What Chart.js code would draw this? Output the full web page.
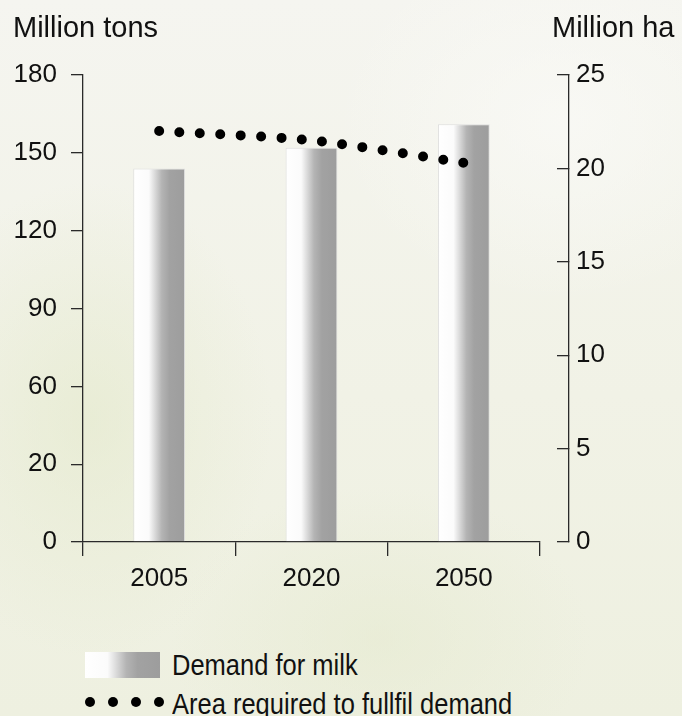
<!DOCTYPE html>
<html>
<head>
<meta charset="utf-8">
<script src="https://cdn.jsdelivr.net/npm/chart.js@4.4.1/dist/chart.umd.min.js"></script>
<style>
  html, body { margin: 0; padding: 0; }
  body {
    width: 682px; height: 716px; overflow: hidden; position: relative;
    font-family: "Liberation Sans", Arial, sans-serif;
    color: #111;
    background:
      radial-gradient(ellipse 260px 340px at 90px 420px, rgba(226, 232, 200, 0.55), rgba(226, 232, 200, 0) 70%),
      radial-gradient(ellipse 300px 220px at 380px 640px, rgba(228, 233, 205, 0.5), rgba(228, 233, 205, 0) 70%),
      radial-gradient(ellipse 320px 260px at 560px 120px, rgba(250, 250, 247, 0.7), rgba(250, 250, 247, 0) 70%),
      linear-gradient(180deg, #f5f5f0 0%, #f1f2e6 55%, #eef0e0 100%);
  }
  #chart { position: absolute; left: 0; top: 0; }
  .axis-title { position: absolute; top: 13px; font-size: 29px; line-height: 29px; white-space: nowrap; }
  /* legend text uses a condensed look */
  .legend-text {
    position: absolute; left: 172px; font-size: 30px; line-height: 30px; white-space: nowrap;
    transform: scaleX(0.85); transform-origin: 0 0;
  }
  .legend-bar {
    position: absolute; left: 85px; top: 652px; width: 75px; height: 26px;
    background: linear-gradient(90deg, #ffffff 0%, #fbfbfb 30%, #b4b4b4 55%, #a2a2a2 70%, #9d9d9d 100%);
  }
  .legend-dot { position: absolute; top: 697px; width: 10px; height: 10px; border-radius: 50%; background: #000; }
</style>
</head>
<body>
<canvas id="chart" width="682" height="620"></canvas>
<div class="axis-title" style="left:13px">Million tons</div>
<div class="axis-title" style="left:552px">Million ha</div>
<div class="legend-bar"></div>
<div class="legend-text" style="top:650px">Demand for milk</div>
<span class="legend-dot" style="left:85px"></span>
<span class="legend-dot" style="left:108px"></span>
<span class="legend-dot" style="left:131px"></span>
<span class="legend-dot" style="left:154px"></span>
<div class="legend-text" style="top:689px">Area required to fullfil demand</div>
<script>
// categories and series
const years = ['2005', '2020', '2050'];
const milkDemand = [144, 152, 161];        // million tons
const areaRequired = [22.0, 21.5, 20.3];   // million ha
// left axis labels as printed (0..180 in steps of 30)
const tonsTickLabels = ['0', '20', '60', '90', '120', '150', '180'];

const FONT = '"Liberation Sans", Arial, sans-serif';
const AXIS = '#2a2a2a';
const BAR_PCT = 0.34;

// white-to-grey shading across each bar
function barGradient(ctx) {
  const chart = ctx.chart;
  const x = chart.scales.x;
  if (!x || ctx.dataIndex === undefined) return '#a0a0a0';
  const w = x.width / years.length * BAR_PCT;
  const cx = x.getPixelForValue(ctx.dataIndex);
  if (!isFinite(cx) || !isFinite(w) || w <= 0) return '#a0a0a0';
  const g = chart.ctx.createLinearGradient(cx - w / 2, 0, cx + w / 2, 0);
  g.addColorStop(0, '#ffffff');
  g.addColorStop(0.3, '#fbfbfb');
  g.addColorStop(0.55, '#b4b4b4');
  g.addColorStop(0.7, '#a2a2a2');
  g.addColorStop(1, '#9d9d9d');
  return g;
}

const tickFont = { family: FONT, size: 26 };

new Chart(document.getElementById('chart'), {
  data: {
    labels: years,
    datasets: [
      {
        type: 'line',
        label: 'Area required to fullfil demand',
        data: areaRequired,
        yAxisID: 'y1',
        borderColor: '#000',
        borderWidth: 10,
        borderDash: [0, 20.4],
        borderCapStyle: 'round',
        tension: 0.25,
        pointRadius: 0,
        fill: false,
        order: 0
      },
      {
        type: 'bar',
        label: 'Demand for milk',
        data: milkDemand,
        yAxisID: 'y',
        backgroundColor: barGradient,
        borderColor: '#dedede',
        borderWidth: 1,
        barPercentage: BAR_PCT,
        categoryPercentage: 1,
        order: 1
      }
    ]
  },
  options: {
    responsive: false,
    animation: false,
    devicePixelRatio: 1,
    layout: { padding: { top: 75, left: 0, right: 0, bottom: 0 } },
    plugins: {
      legend: { display: false },
      tooltip: { enabled: false }
    },
    scales: {
      x: {
        type: 'category',
        offset: true,
        grid: { offset: true, drawOnChartArea: false, tickLength: 14, color: AXIS, lineWidth: 1.3 },
        border: { color: AXIS, width: 1.3 },
        ticks: { color: '#111', font: tickFont, padding: 7, maxRotation: 0 },
        afterFit(s) { s.height = 78; }
      },
      y: {
        type: 'linear',
        position: 'left',
        min: 0,
        max: 180,
        grid: { drawOnChartArea: false, tickLength: 12, color: AXIS, lineWidth: 1.3 },
        border: { color: AXIS, width: 1.3 },
        ticks: {
          stepSize: 30,
          color: '#111',
          font: tickFont,
          padding: 14,
          callback: (v, i) => tonsTickLabels[i]
        },
        afterFit(s) { s.width = 83; }
      },
      // empty strip between the end of the x axis and the right axis
      gap: {
        type: 'linear',
        axis: 'y',
        position: 'right',
        weight: 0,
        grid: { display: false },
        border: { display: false },
        ticks: { display: false },
        afterFit(s) { s.width = 29; }
      },
      y1: {
        type: 'linear',
        position: 'right',
        weight: 1,
        min: 0,
        max: 25,
        grid: { drawOnChartArea: false, tickLength: -12, color: AXIS, lineWidth: 1.3 },
        border: { color: AXIS, width: 1.3 },
        ticks: { stepSize: 5, color: '#111', font: tickFont, padding: 19 },
        afterFit(s) { s.width = 113; }
      }
    }
  }
});
</script>
</body>
</html>
